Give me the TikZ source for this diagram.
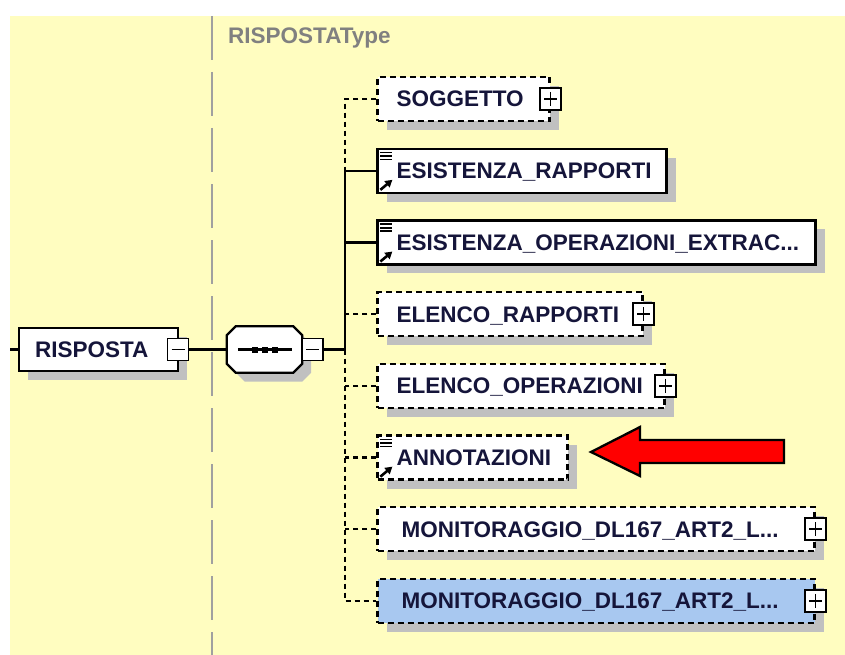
\documentclass[tikz,border=0pt]{standalone}
\usepackage{fontspec}
\setmainfont{Liberation Sans}
\usetikzlibrary{arrows.meta,shadows}
\definecolor{bgy}{HTML}{FFFDC0}
\definecolor{shgray}{HTML}{C0C0C0}
\definecolor{blu}{HTML}{A8C8F0}
\definecolor{txtc}{HTML}{15153A}
\definecolor{sepc}{HTML}{A0A0A0}
\definecolor{tgray}{HTML}{808080}
\newcommand\xsdicons[1]{%
  \foreach \k in {5,8.5,12} {\draw[line width=1.6pt] ([shift={(4,\k)}]#1.north west) -- ++(12,0);}
  \draw[line width=2.6pt, -{Triangle[length=7pt,width=8pt]}] ([shift={(4,-4)}]#1.south west) -- ++(12,-10);
}
\newcommand\octpath[1]{([xshift=9pt]#1.north west) -- ([xshift=-9pt]#1.north east) -- ([yshift=-9pt]#1.north east) -- ([yshift=9pt]#1.south east) -- ([xshift=-9pt]#1.south east) -- ([xshift=9pt]#1.south west) -- ([yshift=9pt]#1.south west) -- ([yshift=-9pt]#1.north west) -- cycle}
\begin{document}
\begin{tikzpicture}[x=1pt,y=-1pt,
  shd/.style={drop shadow={shadow xshift=9pt,shadow yshift=-9pt,opacity=1,fill=shgray}},
  elem/.style={rectangle, draw=black, line width=2.3pt, fill=white, minimum height=44pt, inner sep=0pt, shd},
  optel/.style={elem, dash pattern=on 6pt off 4pt},
  txt/.style={font=\bfseries\fontsize{22.5}{26}\selectfont, text=txtc, inner sep=0pt, anchor=west, text height=16pt, text depth=0pt},
  pmbox/.style={rectangle, draw=black, line width=1.6pt, fill=white, minimum width=21pt, minimum height=22pt, inner sep=0pt},
  plusb/.style={pmbox, path picture={
      \draw[line width=1.6pt] ([xshift=4pt]path picture bounding box.west) -- ([xshift=-4pt]path picture bounding box.east);
      \draw[line width=1.6pt] ([yshift=-4pt]path picture bounding box.north) -- ([yshift=4pt]path picture bounding box.south);}},
  minusb/.style={pmbox, path picture={
      \draw[line width=1.6pt] ([xshift=4pt]path picture bounding box.west) -- ([xshift=-4pt]path picture bounding box.east);}},
  conn/.style={line width=2.3pt},
  dconn/.style={conn, dash pattern=on 5pt off 4pt}]
\useasboundingbox (0,0) rectangle (845,655);
\fill[bgy] (10,16) rectangle (845,655);
\draw[sepc, line width=2.5pt, dash pattern=on 44pt off 12pt] (212,16) -- (212,655);
\node[txt, text=tgray] (ttl) at (228,36) {RISPOSTAType};

% root element
\coordinate (in) at (10,349.5);
\node[elem, minimum width=159pt, minimum height=43pt] (risp) at (98.5,349.5) {};
\node[txt] (rispt) at ([xshift=17pt]risp.west) {RISPOSTA};
\node[minusb] (rmin) at (178,349.5) {};

% sequence compositor
\node[rectangle, minimum width=75pt, minimum height=46pt, inner sep=0pt] (seq) at (264.5,349.5) {};
\fill[shgray, transform canvas={shift={(9pt,-9pt)}}] \octpath{seq};
\draw[line width=2.3pt, fill=white] \octpath{seq};
\draw[line width=2.3pt] ([xshift=11pt]seq.west) -- ([xshift=-10pt]seq.east);
\foreach \dx in {-10,0,10} {\fill ([shift={(\dx-3,-3)}]seq.center) rectangle ++(6,6);}
\node[minusb] (smin) at (312.5,349.5) {};
\coordinate (j) at (345,349.5);

% children
\node[optel, minimum width=172pt] (sog) at (463.5,99) {};
\node[txt] (sogt) at ([xshift=20pt]sog.west) {SOGGETTO};
\node[plusb] (sogp) at (sog.east) {};

\node[elem, minimum width=289pt] (esr) at (522,170.7) {};
\node[txt] (esrt) at ([xshift=20pt]esr.west) {ESISTENZA\_RAPPORTI};
\xsdicons{esr}

\node[elem, minimum width=438pt] (eso) at (596.5,242.4) {};
\node[txt] (esot) at ([xshift=20pt]eso.west) {ESISTENZA\_OPERAZIONI\_EXTRAC...};
\xsdicons{eso}

\node[optel, minimum width=265pt] (elr) at (510,314.1) {};
\node[txt] (elrt) at ([xshift=20pt]elr.west) {ELENCO\_RAPPORTI};
\node[plusb] (elrp) at (elr.east) {};

\node[optel, minimum width=287pt] (elo) at (521,385.8) {};
\node[txt] (elot) at ([xshift=20pt]elo.west) {ELENCO\_OPERAZIONI};
\node[plusb] (elop) at (elo.east) {};

\node[optel, minimum width=190pt] (ann) at (472.5,457.5) {};
\node[txt] (annt) at ([xshift=20pt]ann.west) {ANNOTAZIONI};
\xsdicons{ann}

\node[optel, minimum width=437pt] (mon1) at (596,529.2) {};
\node[txt] (mon1t) at ([xshift=25pt]mon1.west) {MONITORAGGIO\_DL167\_ART2\_L...};
\node[plusb] (mon1p) at (mon1.east) {};

\node[optel, minimum width=437pt, fill=blu] (mon2) at (596,600.9) {};
\node[txt] (mon2t) at ([xshift=25pt]mon2.west) {MONITORAGGIO\_DL167\_ART2\_L...};
\node[plusb] (mon2p) at (mon2.east) {};

% connectors
\draw[conn] (in) -- (risp.west);
\draw[conn] (rmin.east) -- (seq.west);
\draw[conn] (smin.east) -- (j);
\draw[dconn] (sog.west) -- (sog.west -| j) -- (esr.west -| j);
\draw[conn] (esr.west) -- (esr.west -| j) -- (j);
\draw[conn] (eso.west) -- (eso.west -| j);
\draw[dconn] (elr.west) -- (elr.west -| j);
\draw[dconn] (j) -- (mon2.west -| j) -- (mon2.west);
\draw[dconn] (elo.west) -- (elo.west -| j);
\draw[dconn] (ann.west) -- (ann.west -| j);
\draw[dconn] (mon1.west) -- (mon1.west -| j);

% red arrow
\draw[fill=red, line width=2.3pt, line join=miter] (591,452) -- (640,427) -- (640,440) -- (784,440) -- (784,463) -- (640,463) -- (640,476) -- cycle;
\end{tikzpicture}
\end{document}
